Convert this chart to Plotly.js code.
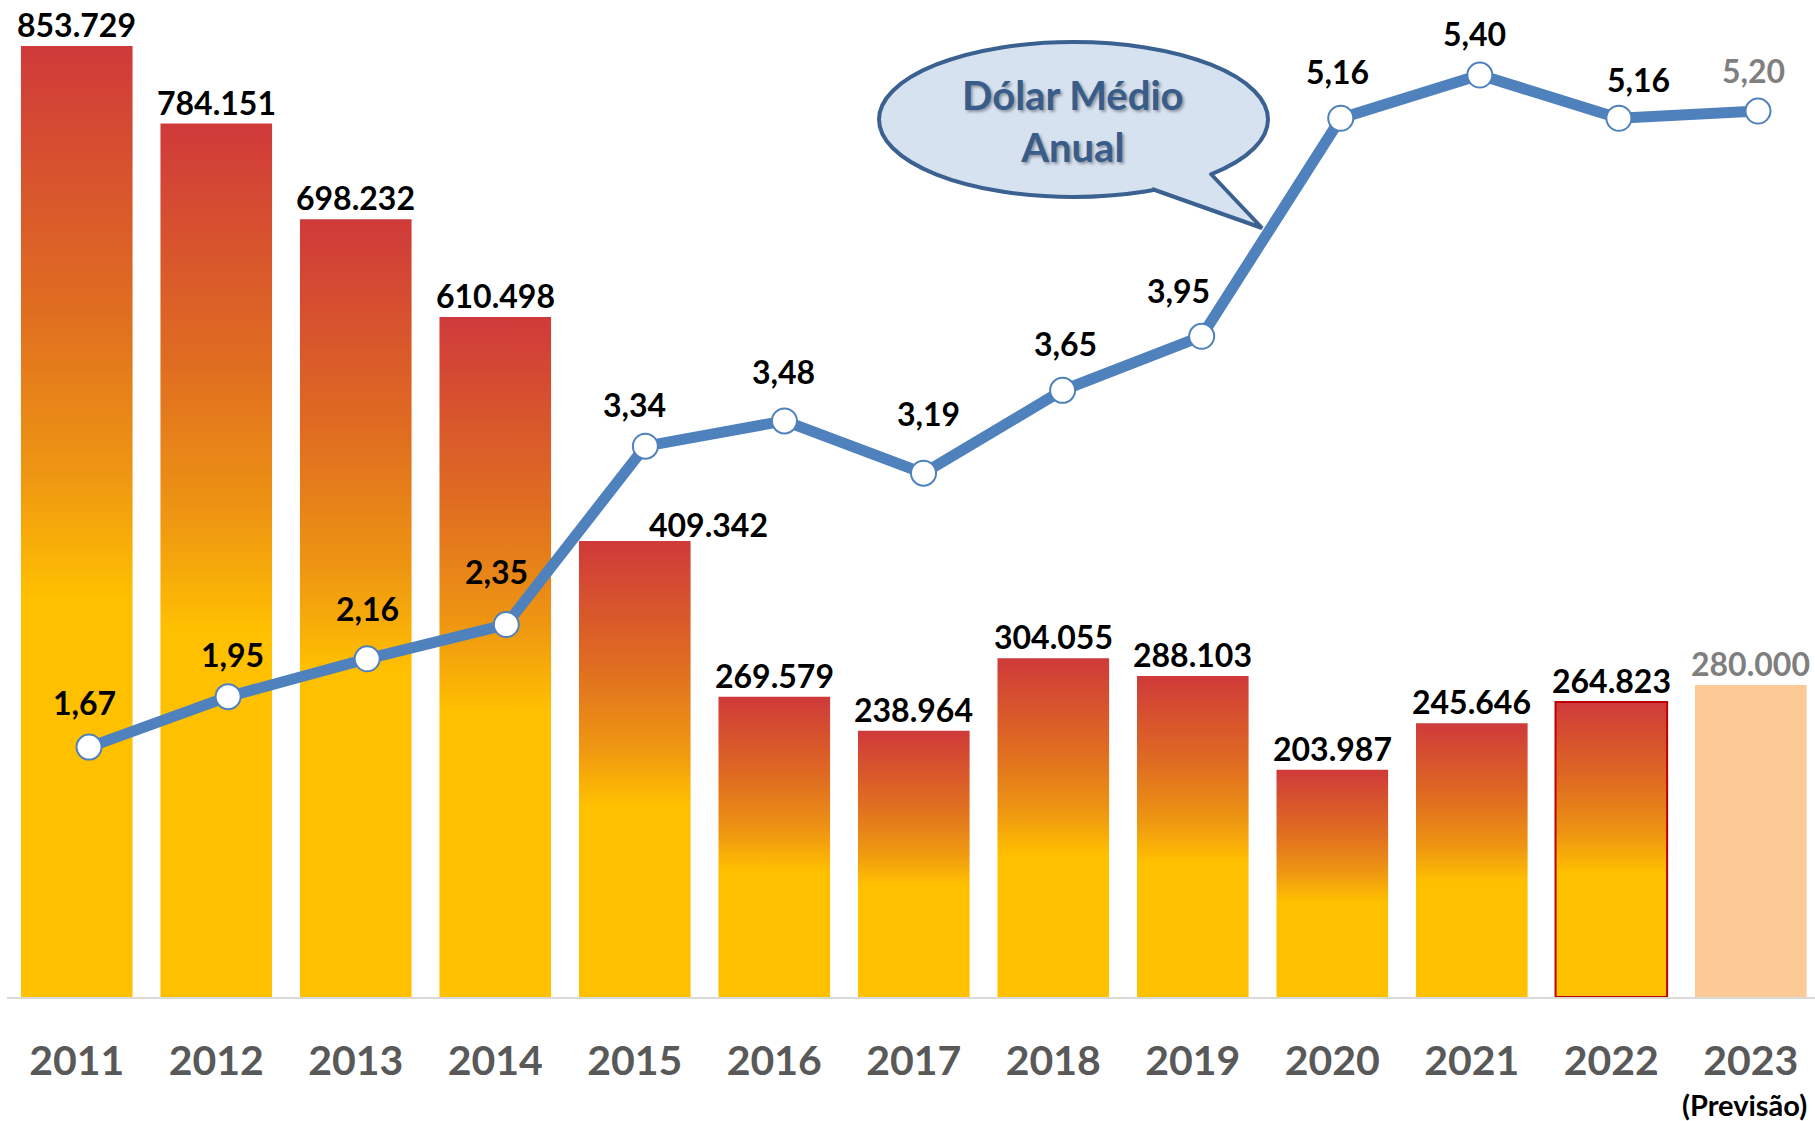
<!DOCTYPE html>
<html>
<head>
<meta charset="utf-8">
<script src="https://cdn.plot.ly/plotly-3.0.1.min.js"></script>
<style>
  html, body { margin: 0; padding: 0; background: #ffffff; }
  #chart { width: 1815px; height: 1121px; }
</style>
</head>
<body>
<div id="chart"></div>
<script>
// ---------------- data ----------------
var years = ['2011','2012','2013','2014','2015','2016','2017','2018','2019','2020','2021','2022','2023'];
var volumes = [853729, 784151, 698232, 610498, 409342, 269579, 238964, 304055, 288103, 203987, 245646, 264823, 280000];
var dollar = [1.67, 1.95, 2.16, 2.35, 3.34, 3.48, 3.19, 3.65, 3.95, 5.16, 5.40, 5.16, 5.20];
var forecastNote = '(Previsão)';
var bubbleLines = ['Dólar Médio', 'Anual'];

// ---------------- styling ----------------
var W = 1815, H = 1121;
var M = {l: 7, r: 0, t: 46, b: 124};
var FONT = 'Lato, "Open Sans", sans-serif';
var HALF = 0.4; // half bar width in category units
var gradient = [[0, '#FFC000'], [0.42, '#FFC000'], [0.55, '#EE9612'], [0.72, '#E06E20'], [1, '#CF3A3A']];
var forecastIdx = years.length - 1;
var highlightIdx = years.length - 2;
// label placement nudges (pixels), styling only
var lineLabelNudgeX = [-2, 7, 3, -7, -8, 2, 8, 6, -20, 0, -2, 23, -1];
var lineLabelNudgeY = [1, -2, 6, 9, -2, 5, 16, 3, 2, 3, -2, -5, -3];
var barLabelNudgeX = [0, 0, 0, 0, 74, 0, 0, 0, 0, 0, 0, 0, 0];
var barLabelNudgeY = [0, 0, 0, 0, -5, 0, 0, 0, 0, 0, 0, 0, 0];

function fmtThousands(v) {
  return String(v).replace(/\B(?=(\d{3})+(?!\d))/g, '.');
}
function fmtDec(v) {
  return v.toFixed(2).replace('.', ',');
}

var traces = [];
var xs = years.map(function (_, i) { return i; });

// bars as filled shapes with vertical gradients
volumes.forEach(function (v, i) {
  var t = {
    type: 'scatter',
    x: [i - HALF, i + HALF, i + HALF, i - HALF, i - HALF],
    y: [0, 0, v, v, 0],
    xaxis: 'x', yaxis: 'y',
    fill: 'toself',
    mode: 'none',
    hoverinfo: 'skip',
    showlegend: false
  };
  if (i === forecastIdx) {
    t.fillcolor = '#FCC997';
  } else {
    t.fillgradient = {type: 'vertical', colorscale: gradient};
  }
  if (i === highlightIdx) {
    t.mode = 'lines';
    t.line = {color: '#C00000', width: 2};
  }
  traces.push(t);
});

// dollar line
traces.push({
  type: 'scatter',
  x: xs,
  y: dollar,
  xaxis: 'x2', yaxis: 'y2',
  mode: 'lines+markers',
  line: {color: '#4F81BD', width: 11},
  marker: {size: 25, color: '#FFFFFF', line: {color: '#4F81BD', width: 2}},
  hoverinfo: 'skip',
  showlegend: false
});

var annotations = [];
volumes.forEach(function (v, i) {
  annotations.push({
    xref: 'x', yref: 'y', x: i, y: v,
    text: fmtThousands(v),
    showarrow: false, yanchor: 'bottom',
    xshift: barLabelNudgeX[i], yshift: barLabelNudgeY[i],
    font: {family: FONT, size: 32, weight: 'bold', color: i === forecastIdx ? '#7F7F7F' : '#000000'}
  });
});
dollar.forEach(function (d, i) {
  annotations.push({
    xref: 'x2', yref: 'y2', x: i, y: d,
    text: fmtDec(d),
    showarrow: false, yanchor: 'middle',
    yshift: 44 + lineLabelNudgeY[i], xshift: -3 + lineLabelNudgeX[i],
    font: {family: FONT, size: 32, weight: 'bold', color: i === forecastIdx ? '#7F7F7F' : '#000000'}
  });
});

// pixel -> paper helpers for decorative callout
var PW = W - M.l - M.r, PH = H - M.t - M.b;
function px(x) { return (x - M.l) / PW; }
function py(y) { return (H - M.b - y) / PH; }

annotations.push({
  xref: 'x', yref: 'paper', x: forecastIdx, y: py(1104),
  xshift: -6,
  text: forecastNote, showarrow: false, yanchor: 'middle',
  font: {family: FONT, size: 29, weight: 'bold', color: '#000000'}
});

annotations.push({
  xref: 'paper', yref: 'paper', x: px(1073), y: py(121),
  text: bubbleLines.join('<br>'), showarrow: false,
  xanchor: 'center', yanchor: 'middle',
  font: {family: FONT, size: 40, weight: 'bold', color: '#385D8A', shadow: '2px 2px 3px rgba(0,0,0,0.35)'}
});

var bubbleFill = '#D7E2F1', bubbleLine = '#3A6190';
var A = [1210, 173], T = [1262, 228], B = [1152, 189];
var shapes = [
  {type: 'circle', xref: 'paper', yref: 'paper', layer: 'above',
   x0: px(879), x1: px(1268), y0: py(197), y1: py(42),
   fillcolor: bubbleFill, line: {color: bubbleLine, width: 4}},
  {type: 'path', xref: 'paper', yref: 'paper', layer: 'above',
   path: 'M' + px(A[0]) + ',' + py(A[1]) + ' L' + px(T[0]) + ',' + py(T[1]) + ' L' + px(B[0]) + ',' + py(B[1]) +
         ' L' + px(B[0] + 4) + ',' + py(B[1] - 9) + ' L' + px(A[0] - 6) + ',' + py(A[1] - 9) + ' Z',
   fillcolor: bubbleFill, line: {width: 0}},
  {type: 'path', xref: 'paper', yref: 'paper', layer: 'above',
   path: 'M' + px(A[0]) + ',' + py(A[1]) + ' L' + px(T[0]) + ',' + py(T[1]) + ' L' + px(B[0]) + ',' + py(B[1]),
   line: {color: bubbleLine, width: 4}}
];

var layout = {
  width: W, height: H,
  margin: M,
  paper_bgcolor: '#FFFFFF', plot_bgcolor: '#FFFFFF',
  showlegend: false,
  xaxis: {
    range: [-0.5, 12.46], fixedrange: true,
    tickvals: xs, ticktext: years,
    tickfont: {family: FONT, size: 41, weight: 'bold', color: '#595959'},
    ticks: '', ticklabelstandoff: 27,
    showgrid: false, zeroline: false,
    showline: true, linecolor: '#D9D9D9', linewidth: 2
  },
  yaxis: {range: [0, 853729], visible: false, fixedrange: true, showgrid: false, zeroline: false},
  xaxis2: {range: [-0.59, 12.41], overlaying: 'x', visible: false, fixedrange: true},
  yaxis2: {range: [0.283, 5.561], overlaying: 'y', side: 'right', visible: false, fixedrange: true},
  annotations: annotations,
  shapes: shapes
};

Plotly.newPlot('chart', traces, layout, {staticPlot: true, displayModeBar: false});
</script>
</body>
</html>
